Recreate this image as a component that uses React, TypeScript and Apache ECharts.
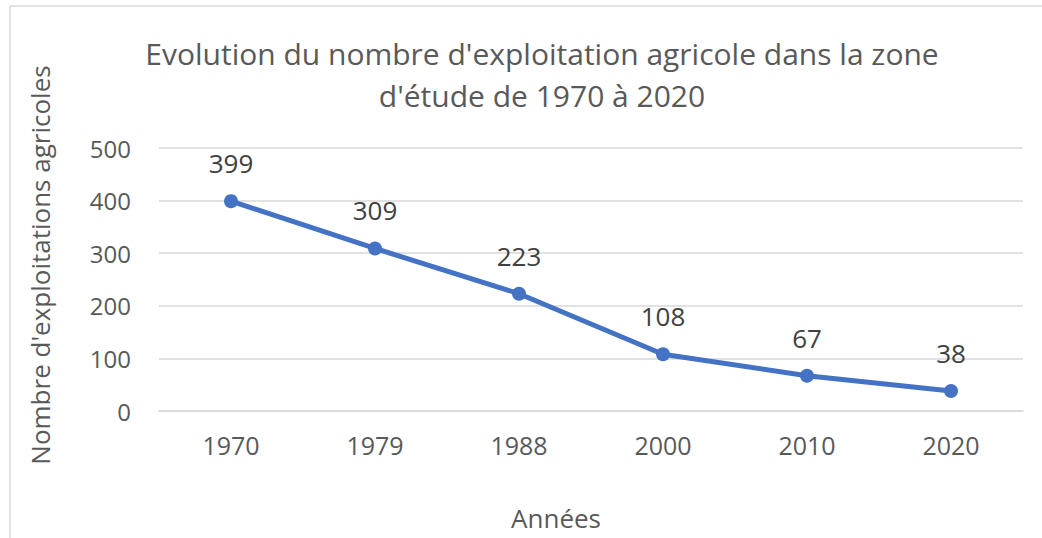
import React, { useEffect, useRef } from "react";
import * as echarts from "echarts";

const years = ["1970", "1979", "1988", "2000", "2010", "2020"];
const farms = [399, 309, 223, 108, 67, 38];
const titleLines = ["Evolution du nombre d'exploitation agricole dans la zone", "d'étude de 1970 à 2020"];
const yName = "Nombre d'exploitations agricoles";
const xName = "Années";

export default function App() {
  const ref = useRef<HTMLDivElement>(null);
  useEffect(() => {
    if (!ref.current) return;
    const chart = echarts.init(ref.current, null, { renderer: "svg" });
    const font = "'Open Sans', 'Noto Sans', sans-serif";
    chart.setOption({
      animation: false,
      backgroundColor: "#ffffff",
      textStyle: { fontFamily: font },
      title: {
        text: titleLines.join("\n"),
        left: 537,
        top: 27,
        textAlign: "center",
        textStyle: { fontSize: 30, fontWeight: "normal", color: "#595959", lineHeight: 42, fontFamily: font },
      },
      grid: { left: 159, right: 19, top: 148, bottom: 127 },
      xAxis: {
        type: "category",
        data: years,
        boundaryGap: true,
        axisLine: { show: true, lineStyle: { color: "#d9d9d9", width: 1.5 } },
        axisTick: { show: false },
        axisLabel: { color: "#595959", fontSize: 25, margin: 21, fontFamily: font },
      },
      yAxis: {
        type: "value",
        min: 0,
        max: 500,
        interval: 100,
        axisLine: { show: false },
        axisTick: { show: false },
        splitLine: { lineStyle: { color: "#d9d9d9", width: 1.5 } },
        axisLabel: { color: "#595959", fontSize: 24, margin: 28, fontFamily: font },
      },
      graphic: [
        {
          type: "rect",
          shape: { x: 10, y: 6, width: 1100, height: 600 },
          style: { fill: "none", stroke: "#d9d9d9", lineWidth: 1.5 },
          silent: true,
          z: -1,
        },
        {
          type: "text",
          x: 40,
          y: 265,
          rotation: Math.PI / 2,
          style: {
            text: yName,
            fill: "#595959",
            font: `26px ${font}`,
            textAlign: "center",
            textVerticalAlign: "middle",
          },
        },
        {
          type: "text",
          x: 556,
          y: 518,
          style: {
            text: xName,
            fill: "#595959",
            font: `26px ${font}`,
            textAlign: "center",
            textVerticalAlign: "middle",
          },
        },
      ],
      series: [
        {
          type: "line",
          data: farms,
          symbol: "circle",
          symbolSize: 14,
          itemStyle: { color: "#4472C4" },
          lineStyle: { color: "#4472C4", width: 5 },
          label: {
            show: true,
            position: "top",
            distance: 18,
            color: "#404040",
            fontSize: 26,
            fontFamily: font,
          },
        },
      ],
    });
    return () => chart.dispose();
  }, []);
  return (
    <div
      ref={ref}
      style={{ position: "fixed", left: 0, top: 0, width: 1042, height: 538 }}
    />
  );
}
